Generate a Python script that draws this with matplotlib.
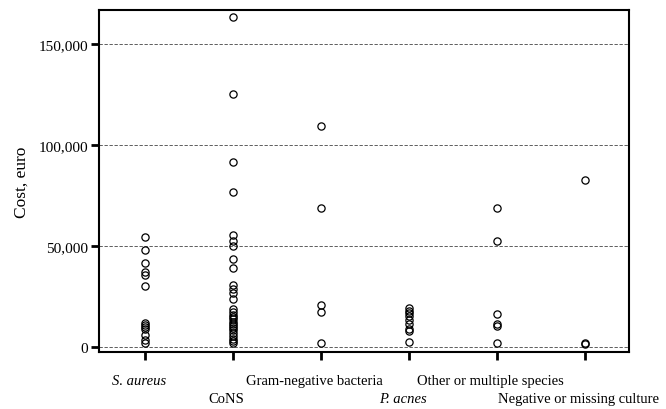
import matplotlib
matplotlib.use("Agg")
import matplotlib.pyplot as plt
import matplotlib.transforms as mtransforms
from matplotlib.ticker import FuncFormatter, FixedLocator

categories = ["S. aureus", "CoNS", "Gram-negative bacteria", "P. acnes",
              "Other or multiple species", "Negative or missing culture"]
italic_cats = ["S. aureus", "P. acnes"]

s_aureus = [54500, 48300, 41600, 37100, 35800, 30500,
            12000, 11000, 10000, 9000, 6000, 3500, 2000]
cons = [163400, 125400, 91900, 77000, 55500, 52500, 50000, 43500, 39300,
        30800, 28900, 26800, 24000,
        19000, 17500, 16200, 15000, 13800, 12600, 11500, 10400, 9400,
        8300, 7000, 5600, 4200, 3000, 2000]
gram_neg = [109700, 69000, 20900, 17300, 2000]
p_acnes = [19300, 18100, 16800, 15300, 13700, 11500, 9100, 8000, 2500]
other = [68800, 52800, 16500, 11500, 10700, 2100]
negative = [83000, 2100, 1600]

series = [s_aureus, cons, gram_neg, p_acnes, other, negative]
yticks = [0, 50000, 100000, 150000]

plt.rcParams["font.family"] = ["Liberation Serif", "DejaVu Serif"]

fig = plt.figure(figsize=(6.66, 4.10), dpi=100)
ax = fig.add_axes([0.1486, 0.1398, 0.7955, 0.8332])

for i, vals in enumerate(series):
    ax.plot([i] * len(vals), vals, linestyle="none", marker="o",
            markersize=5.2, markerfacecolor="none", markeredgecolor="black",
            markeredgewidth=0.9)

for yv in yticks:
    ax.axhline(yv, color="#444444", linestyle=(0, (4, 2)), linewidth=0.6,
               zorder=0)

ax.set_xlim(-0.52, 5.5)
ax.set_ylim(-2200, 167000)
ax.set_yticks(yticks)
ax.yaxis.set_major_formatter(FuncFormatter(lambda v, p: f"{int(v):,}"))

# staggered category labels: even ones on major ticks, odd ones on minor ticks
idx = list(range(len(categories)))
even_pos = idx[0::2]
odd_pos = idx[1::2]
ax.xaxis.set_major_locator(FixedLocator(even_pos))
ax.xaxis.set_minor_locator(FixedLocator(odd_pos))
ax.set_xticklabels([categories[i] for i in even_pos])
ax.set_xticklabels([categories[i] for i in odd_pos], minor=True)

ax.tick_params(axis="both", which="both", direction="out", length=6, width=2,
               color="black")
ax.tick_params(axis="x", which="both", labelsize=10.5)
ax.tick_params(axis="y", labelsize=11, pad=2)
ax.tick_params(axis="x", which="major", pad=10)
ax.tick_params(axis="x", which="minor", pad=23)

shift = mtransforms.ScaledTranslation(-6 / 100, 0, fig.dpi_scale_trans)
for lab in ax.get_xticklabels() + ax.get_xticklabels(minor=True):
    if lab.get_text() in italic_cats:
        lab.set_style("italic")
    lab.set_transform(lab.get_transform() + shift)

for sp in ax.spines.values():
    sp.set_linewidth(1.5)
    sp.set_color("black")

ax.set_ylabel("Cost, euro", fontsize=12.5, labelpad=6)

fig.savefig("out.png", dpi=100, facecolor="white")
